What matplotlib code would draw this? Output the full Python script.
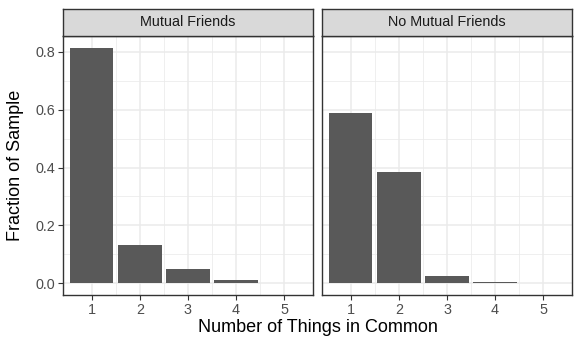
import numpy as np
import matplotlib
matplotlib.use("Agg")
import matplotlib.pyplot as plt

plt.rcParams['font.family'] = ['Liberation Sans', 'DejaVu Sans']

things = [1, 2, 3, 4, 5]
mutual = [0.814, 0.131, 0.048, 0.010, 0.002]
no_mutual = [0.590, 0.386, 0.024, 0.003, 0.001]
panels = ["Mutual Friends", "No Mutual Friends"]
y_ticks = [0.0, 0.2, 0.4, 0.6, 0.8]


def main():
    W, H = 581, 349
    fig = plt.figure(figsize=(W / 100, H / 100), dpi=100)
    ymax = max(max(mutual), max(no_mutual))
    ylim = (-0.05 * ymax, 1.05 * ymax)

    lefts = [63, 322]
    pw = 250
    top, bottom, strip_top = 36, 295, 9
    series = [mutual, no_mutual]

    for i in range(2):
        ax = fig.add_axes([lefts[i] / W, 1 - bottom / H, pw / W, (bottom - top) / H])
        ax.set_facecolor("white")
        ax.set_xlim(0.4, 5.6)
        ax.set_ylim(*ylim)
        ax.set_axisbelow(True)
        ax.set_xticks(things)
        ax.set_yticks(y_ticks)
        ax.set_xticks([1.5, 2.5, 3.5, 4.5], minor=True)
        ax.set_yticks([0.1, 0.3, 0.5, 0.7], minor=True)
        ax.grid(True, which="major", color="#ebebeb", lw=1.1)
        ax.grid(True, which="minor", color="#ebebeb", lw=0.55)
        ax.tick_params(which="minor", length=0)
        ax.tick_params(which="major", length=3.5, width=0.8, color="#333333",
                       labelcolor="#4d4d4d", labelsize=10.4, pad=2)
        ax.bar(things, series[i], width=0.9, color="#595959", zorder=2)
        for s in ax.spines.values():
            s.set_color("#333333")
            s.set_linewidth(1.0)
        if i == 0:
            ax.set_yticklabels(["0.0", "0.2", "0.4", "0.6", "0.8"])
        else:
            ax.tick_params(axis="y", which="major", left=False, labelleft=False)

        # strip
        sax = fig.add_axes([lefts[i] / W, 1 - top / H, pw / W, (top - strip_top) / H])
        sax.set_facecolor("#d9d9d9")
        sax.set_xticks([])
        sax.set_yticks([])
        for s in sax.spines.values():
            s.set_color("#333333")
            s.set_linewidth(1.0)
        sax.text(0.5, 0.5, panels[i], ha="center", va="center", fontsize=10.4,
                 color="#1a1a1a", transform=sax.transAxes)

    fig.text((63 + 572) / 2 / W, 1 - 328 / H, "Number of Things in Common",
             ha="center", va="center", fontsize=13)
    fig.text(16 / W, 1 - ((top + bottom) / 2) / H, "Fraction of Sample",
             ha="center", va="center", rotation=90, fontsize=13)

    fig.savefig("out.png", dpi=100)
    return 0


if __name__ == "__main__":
    main()
